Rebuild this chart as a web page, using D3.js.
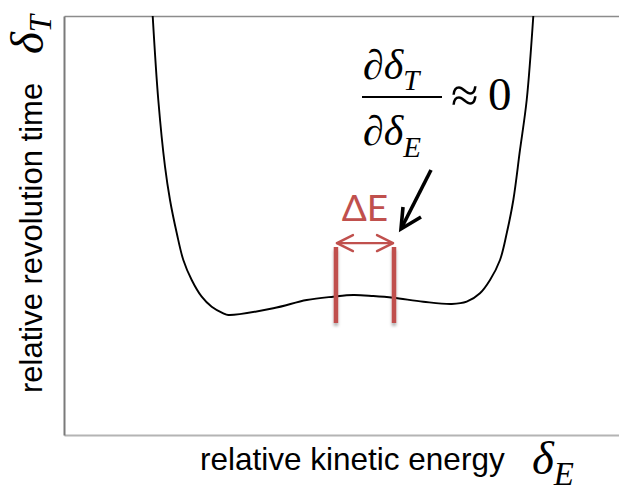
<!DOCTYPE html>
<html>
<head>
<meta charset="utf-8">
<script src="https://cdn.jsdelivr.net/npm/d3@7"></script>
<style>
  html, body { margin: 0; padding: 0; background: #fff; }
  svg { display: block; }
</style>
</head>
<body>
<svg id="chart" width="619" height="491"></svg>
<script>
// Revolution-time curve: relative kinetic energy (δE) vs relative revolution time (δT)
const deltaE = [1.598, 1.699, 1.820, 1.910, 2.031, 2.150, 2.301, 2.481, 2.661, 2.870, 2.960,
                3.771, 4.373, 4.852, 5.213, 5.573, 5.933, 6.474, 6.986, 7.256, 7.495,
                7.676, 7.856, 7.977, 8.096, 8.216, 8.337, 8.456];
const deltaT = [10.0, 7.995, 6.403, 5.609, 4.821, 4.177, 3.699, 3.301, 3.062, 2.905, 2.864,
                3.024, 3.222, 3.301, 3.341, 3.317, 3.277, 3.181, 3.126, 3.181, 3.382,
                3.699, 4.177, 4.814, 5.609, 6.802, 7.995, 10.0];

// Energy acceptance window ΔE (edges in δE) and marker extent in δT
const windowEdges = [4.90, 5.946];
const windowSpan = [2.673, 4.487];
const windowArrowLevel = 4.58;

const xDomain = [0, 10];
const yDomain = [0, 10];

const svg = d3.select("#chart");
const margin = { left: 64, right: 0, top: 16, bottom: 56 };
const W = 619, H = 491;

const x = d3.scaleLinear().domain(xDomain).range([margin.left, W - margin.right]);
const y = d3.scaleLinear().domain(yDomain).range([H - margin.bottom, margin.top]);

const defs = svg.append("defs");
defs.append("clipPath").attr("id", "plot-clip")
  .append("rect")
  .attr("x", x(xDomain[0])).attr("y", y(yDomain[1]))
  .attr("width", x(xDomain[1]) - x(xDomain[0]))
  .attr("height", y(yDomain[0]) - y(yDomain[1]));
const shadow = defs.append("filter").attr("id", "bar-shadow")
  .attr("filterUnits", "userSpaceOnUse")
  .attr("x", 0).attr("y", 0).attr("width", W).attr("height", H);
shadow.append("feDropShadow").attr("dx", 0).attr("dy", 3)
  .attr("stdDeviation", 1.6).attr("flood-color", "#000").attr("flood-opacity", 0.3);

// Frame: top and bottom as axis domains, left as the y axis domain
svg.append("g").attr("transform", `translate(0,${y(yDomain[1])})`)
  .call(d3.axisTop(x).tickValues([]).tickSizeOuter(0))
  .call(g => g.select(".domain").attr("stroke", "#8c8c8c").attr("stroke-width", 1.6));
svg.append("g").attr("transform", `translate(0,${y(yDomain[0])})`)
  .call(d3.axisBottom(x).tickValues([]).tickSizeOuter(0))
  .call(g => g.select(".domain").attr("stroke", "#b4b4b4").attr("stroke-width", 2));
svg.append("g").attr("transform", `translate(${x(xDomain[0])},0)`)
  .call(d3.axisLeft(y).tickValues([]).tickSizeOuter(0))
  .call(g => g.select(".domain").attr("stroke", "#7a7a7a").attr("stroke-width", 2));

// The curve
const pts = deltaE.map((e, i) => [e, deltaT[i]]);
const line = d3.line().x(d => x(d[0])).y(d => y(d[1])).curve(d3.curveCatmullRom.alpha(0.5));
svg.append("path")
  .attr("d", line(pts))
  .attr("clip-path", "url(#plot-clip)")
  .attr("fill", "none").attr("stroke", "#000").attr("stroke-width", 1.9);

// ΔE window markers
const red = "#c0504d";
const barW = 4.5;
svg.append("g").selectAll("rect").data(windowEdges).join("rect")
  .attr("x", d => x(d) - barW / 2).attr("width", barW)
  .attr("y", y(windowSpan[1])).attr("height", y(windowSpan[0]) - y(windowSpan[1]))
  .attr("fill", red)
  .attr("filter", "url(#bar-shadow)");

// Double-headed arrow between the window edges
const ay = y(windowArrowLevel);
const xl = x(windowEdges[0]) + 1, xr = x(windowEdges[1]) - 1;
const arrowG = svg.append("g").attr("fill", "none").attr("stroke", red)
  .attr("stroke-width", 2.4).attr("stroke-linecap", "round").attr("stroke-linejoin", "round");
arrowG.append("line").attr("x1", xl).attr("x2", xr).attr("y1", ay).attr("y2", ay);
arrowG.append("path").attr("d", `M${xl + 16},${ay - 8} L${xl},${ay} L${xl + 16},${ay + 8}`);
arrowG.append("path").attr("d", `M${xr - 16},${ay - 8} L${xr},${ay} L${xr - 16},${ay + 8}`);

svg.append("text")
  .attr("x", (x(windowEdges[0]) + x(windowEdges[1])) / 2)
  .attr("y", ay - 22)
  .attr("text-anchor", "middle")
  .attr("font-family", "Lato, 'Open Sans', sans-serif")
  .attr("font-size", 37)
  .attr("fill", red)
  .text("ΔE");

// Black arrow pointing to the flat top of the curve
const tip = [401, 229], tail = [431, 170];
const bk = svg.append("g").attr("fill", "none").attr("stroke", "#000")
  .attr("stroke-width", 3.6).attr("stroke-linecap", "butt").attr("stroke-linejoin", "miter");
bk.append("line").attr("x1", tail[0]).attr("y1", tail[1]).attr("x2", tip[0] + 1).attr("y2", tip[1] - 2);
bk.append("path").attr("d", `M${tip[0] + 2},${tip[1] - 22} L${tip[0]},${tip[1]} L${tip[0] + 20},${tip[1] - 12}`);

// Formula ∂δT/∂δE ≈ 0
const serif = "'Liberation Serif', 'Times New Roman', serif";
const num = svg.append("text").attr("x", 363).attr("y", 79)
  .attr("font-family", serif).attr("font-size", 42).attr("font-style", "italic");
num.append("tspan").text("∂δ");
num.append("tspan").attr("font-size", 29).attr("dy", 11).text("T");
svg.append("line").attr("x1", 362).attr("x2", 442).attr("y1", 97).attr("y2", 97)
  .attr("stroke", "#000").attr("stroke-width", 2);
const den = svg.append("text").attr("x", 363).attr("y", 145)
  .attr("font-family", serif).attr("font-size", 42).attr("font-style", "italic");
den.append("tspan").text("∂δ");
den.append("tspan").attr("font-size", 29).attr("dy", 12).text("E");
svg.append("text").attr("x", 451).attr("y", 112)
  .attr("font-family", serif).attr("font-size", 50).text("≈");
svg.append("text").attr("x", 488).attr("y", 110)
  .attr("font-family", serif).attr("font-size", 47).text("0");

// Axis titles
const sans = "'Liberation Sans', Arial, sans-serif";
const xt = svg.append("text").attr("x", 200).attr("y", 470)
  .attr("font-family", sans).attr("font-size", 31.5).attr("fill", "#000");
xt.append("tspan").text("relative kinetic energy");
const xs = svg.append("text").attr("x", 532).attr("y", 474)
  .attr("font-family", serif).attr("font-style", "italic").attr("font-size", 47);
xs.append("tspan").text("δ");
xs.append("tspan").attr("font-size", 33).attr("dy", 11).text("E");

const yt = svg.append("text").attr("transform", "translate(42,393) rotate(-90)")
  .attr("font-family", sans).attr("font-size", 31).attr("fill", "#000");
yt.append("tspan").text("relative revolution time");
const ys = svg.append("text").attr("transform", "translate(43,54) rotate(-90)")
  .attr("font-family", serif).attr("font-style", "italic").attr("font-size", 47);
ys.append("tspan").text("δ");
ys.append("tspan").attr("font-size", 31).attr("dy", 8).text("T");
</script>
</body>
</html>
